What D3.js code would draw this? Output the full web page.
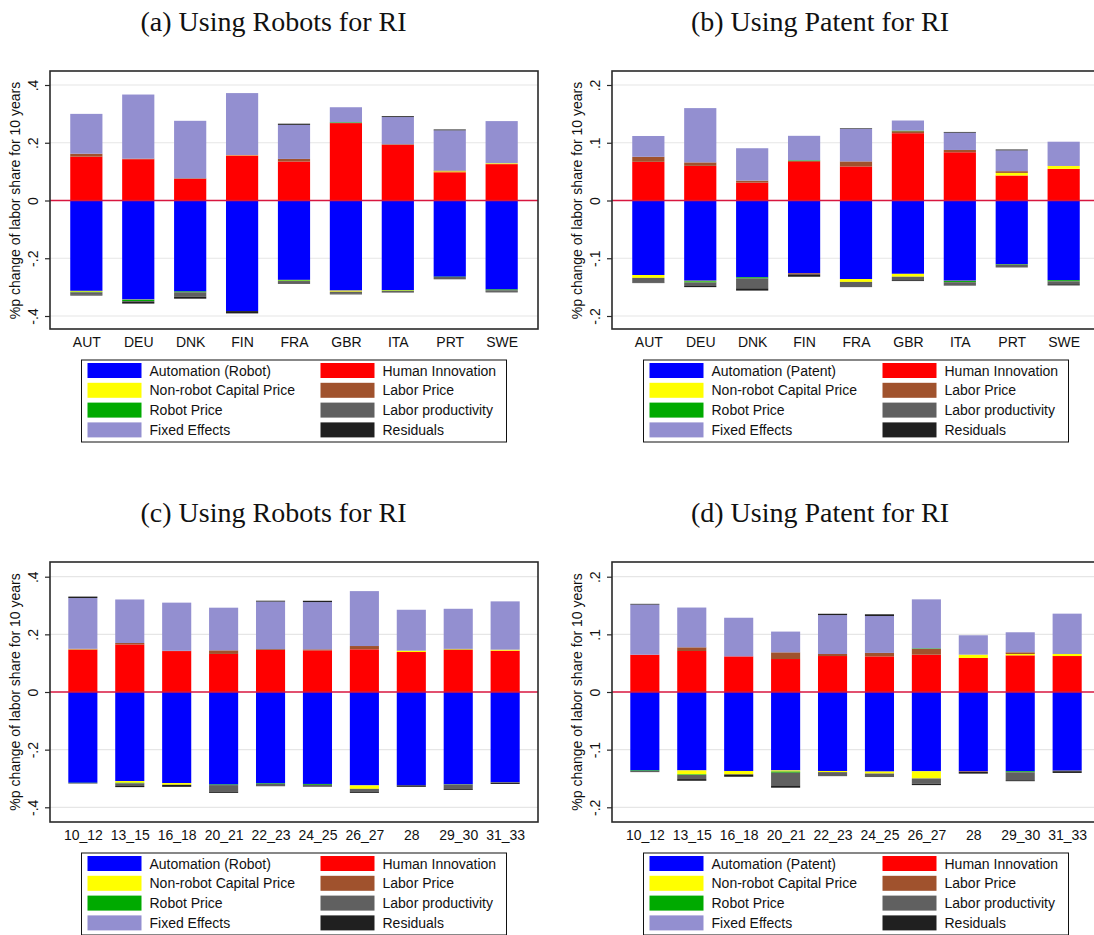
<!DOCTYPE html>
<html><head><meta charset="utf-8">
<script src="https://cdn.jsdelivr.net/npm/d3@7"></script>
<style>body{margin:0;background:#fff} svg{display:block}</style>
</head><body>
<svg id="chart" width="1094" height="935"></svg>
<script>
// ---------- DATA ----------
const countries = ["AUT","DEU","DNK","FIN","FRA","GBR","ITA","PRT","SWE"];
const industries = ["10_12","13_15","16_18","20_21","22_23","24_25","26_27","28","29_30","31_33"];

const namesRobot  = ["Automation (Robot)","Human Innovation","Non-robot Capital Price","Labor Price","Robot Price","Labor productivity","Fixed Effects","Residuals"];
const namesPatent = ["Automation (Patent)","Human Innovation","Non-robot Capital Price","Labor Price","Robot Price","Labor productivity","Fixed Effects","Residuals"];

const ticksRobot = [-0.4,-0.2,0,0.2,0.4];
const tickLabelsRobot = ["-.4","-.2","0",".2",".4"];
const ticksPatent = [-0.2,-0.1,0,0.1,0.2];
const tickLabelsPatent = ["-.2","-.1","0",".1",".2"];

// (a) Robots, by country
const aAutomation = [-0.313,-0.343,-0.315,-0.383,-0.275,-0.312,-0.310,-0.264,-0.308];
const aHuman      = [0.152,0.143,0.075,0.156,0.135,0.268,0.193,0.098,0.126];
const aCapital    = [-0.003,-0.001,0,0.001,-0.002,-0.004,-0.002,0.003,0.003];
const aLaborPrice = [0.010,0.002,0.002,0,0.009,0.001,0.002,0.003,0];
const aRobotPrice = [-0.002,-0.004,-0.003,0,-0.002,0.002,-0.001,-0.001,-0.003];
const aLaborProd  = [-0.008,-0.003,-0.015,0,-0.010,-0.007,-0.006,-0.008,-0.004];
const aFixed      = [0.138,0.222,0.199,0.215,0.118,0.052,0.094,0.139,0.146];
const aResidual   = [-0.003,-0.006,-0.007,-0.008,0.004,-0.002,0.003,0.003,-0.003];

// (b) Patent, by country
const bAutomation = [-0.129,-0.139,-0.133,-0.126,-0.136,-0.127,-0.139,-0.110,-0.138];
const bHuman      = [0.067,0.060,0.031,0.068,0.059,0.1165,0.0835,0.0433,0.0548];
const bCapital    = [-0.005,-0.001,0,0,-0.005,-0.005,-0.0005,0.0045,0.005];
const bLaborPrice = [0.0087,0.006,0.0035,-0.002,0.0087,0.0035,0.004,0.003,0];
const bRobotPrice = [0,-0.002,-0.002,0.0015,0,0.001,-0.002,-0.001,-0.002];
const bLaborProd  = [-0.008,-0.006,-0.017,0,-0.009,-0.006,-0.006,-0.005,-0.005];
const bFixed      = [0.036,0.094,0.056,0.0425,0.0565,0.0175,0.030,0.036,0.042];
const bResidual   = [-0.001,-0.002,-0.004,-0.004,0.001,-0.0015,0.0012,0.0015,-0.002];

// (c) Robots, by industry
const cAutomation = [-0.315,-0.309,-0.316,-0.321,-0.317,-0.319,-0.324,-0.324,-0.320,-0.313];
const cHuman      = [0.147,0.165,0.142,0.132,0.1457,0.1445,0.148,0.1387,0.1457,0.1433];
const cCapital    = [0.001,-0.006,-0.006,0,0,0,-0.012,0.0046,0.002,0.0035];
const cLaborPrice = [0.002,0.005,0.001,0.0125,0.003,0.0035,0.0115,0,0.002,0];
const cRobotPrice = [-0.001,-0.002,0,-0.002,-0.002,-0.003,0,0,-0.001,0];
const cLaborProd  = [-0.002,-0.009,0,-0.022,-0.008,-0.007,-0.009,0,-0.016,-0.002];
const cFixed      = [0.176,0.151,0.167,0.148,0.165,0.164,0.1905,0.142,0.139,0.1676];
const cResidual   = [0.005,-0.004,-0.007,-0.005,0.003,0.0045,-0.005,-0.005,-0.003,-0.004];

// (d) Patent, by industry
const dAutomation = [-0.136,-0.136,-0.137,-0.136,-0.137,-0.138,-0.1375,-0.1376,-0.1376,-0.1364];
const dHuman      = [0.0647,0.0711,0.0618,0.0572,0.0624,0.0618,0.0647,0.059,0.0636,0.0624];
const dCapital    = [0,-0.007,-0.006,-0.002,-0.002,-0.0035,-0.0125,0.0058,0.0023,0.0035];
const dLaborPrice = [0,0.0064,0,0.0116,0.0035,0.006,0.010,-0.001,0.003,0];
const dRobotPrice = [-0.001,-0.001,0,-0.002,0,0,0.001,0,-0.0017,0];
const dLaborProd  = [-0.002,-0.007,0,-0.022,-0.007,-0.006,-0.009,0,-0.0137,-0.001];
const dFixed      = [0.087,0.069,0.067,0.036,0.0675,0.064,0.085,0.0336,0.0347,0.070];
const dResidual   = [0.0012,-0.003,-0.004,-0.004,0.0023,0.003,-0.0025,-0.003,-0.0017,-0.003];

const panelTitles = ["(a) Using Robots for RI","(b) Using Patent for RI","(c) Using Robots for RI","(d) Using Patent for RI"];
const yAxisTitle = "%p change of labor share for 10 years";

// ---------- STYLE ----------
const colors = ["#0000ff","#ff0000","#ffff00","#a0522d","#00aa00","#606060","#938fd0","#202020"];
const SANS = "'Liberation Sans', Arial, Helvetica, sans-serif";
const SERIF = "'Liberation Serif', 'Times New Roman', serif";

const svg = d3.select("#chart");

const panels = [
  {title: panelTitles[0], cats: countries, names: namesRobot, ticks: ticksRobot, labels: tickLabelsRobot, max: 0.4,
   series: [aAutomation,aHuman,aCapital,aLaborPrice,aRobotPrice,aLaborProd,aFixed,aResidual],
   x0: 50, x1: 538, yTop: 85, yBot: 316, fTop: 71, fBot: 329, cx: 273.5, titleY: 31},
  {title: panelTitles[1], cats: countries, names: namesPatent, ticks: ticksPatent, labels: tickLabelsPatent, max: 0.2,
   series: [bAutomation,bHuman,bCapital,bLaborPrice,bRobotPrice,bLaborProd,bFixed,bResidual],
   x0: 612, x1: 1100, yTop: 85, yBot: 316, fTop: 71, fBot: 329, cx: 820, titleY: 31},
  {title: panelTitles[2], cats: industries, names: namesRobot, ticks: ticksRobot, labels: tickLabelsRobot, max: 0.4,
   series: [cAutomation,cHuman,cCapital,cLaborPrice,cRobotPrice,cLaborProd,cFixed,cResidual],
   x0: 50, x1: 538, yTop: 576.7, yBot: 807.3, fTop: 562, fBot: 822, cx: 273.5, titleY: 522},
  {title: panelTitles[3], cats: industries, names: namesPatent, ticks: ticksPatent, labels: tickLabelsPatent, max: 0.2,
   series: [dAutomation,dHuman,dCapital,dLaborPrice,dRobotPrice,dLaborProd,dFixed,dResidual],
   x0: 612, x1: 1100, yTop: 576.7, yBot: 807.3, fTop: 562, fBot: 822, cx: 820, titleY: 522}
];

panels.forEach(drawPanel);

function drawPanel(p) {
  const g = svg.append("g");
  const x = d3.scalePoint().domain(p.cats).range([p.x0, p.x1]).padding(0.7);
  const bw = x.step() * 0.62;
  const y = d3.scaleLinear().domain([-p.max, p.max]).range([p.yBot, p.yTop]);

  // title
  g.append("text").attr("x", p.cx).attr("y", p.titleY).attr("text-anchor", "middle")
    .style("font-family", SERIF).style("font-size", "28px").attr("fill", "#111").text(p.title);

  // gridlines
  g.append("g").selectAll("line").data(p.ticks.filter(t => t !== 0)).join("line")
    .attr("x1", p.x0).attr("x2", p.x1).attr("y1", d => y(d)).attr("y2", d => y(d))
    .attr("stroke", "#e6e6e6").attr("stroke-width", 1.2);

  // stacked bars
  const pos = p.cats.map(() => 0), neg = p.cats.map(() => 0);
  p.series.forEach((vals, s) => {
    const segs = [];
    vals.forEach((v, i) => {
      if (!v) return;
      let a, b;
      if (v > 0) { a = pos[i]; b = pos[i] + v; pos[i] = b; }
      else { a = neg[i]; b = neg[i] + v; neg[i] = b; }
      segs.push({cat: p.cats[i], lo: Math.min(a, b), hi: Math.max(a, b)});
    });
    g.append("g").selectAll("rect").data(segs).join("rect")
      .attr("x", d => x(d.cat) - bw / 2).attr("width", bw)
      .attr("y", d => y(d.hi)).attr("height", d => y(d.lo) - y(d.hi))
      .attr("fill", colors[s]);
  });

  // zero line
  g.append("line").attr("x1", p.x0).attr("x2", p.x1).attr("y1", y(0)).attr("y2", y(0))
    .attr("stroke", "#d8163f").attr("stroke-width", 1.3);

  // frame
  g.append("rect").attr("x", p.x0).attr("y", p.fTop).attr("width", p.x1 - p.x0).attr("height", p.fBot - p.fTop)
    .attr("fill", "none").attr("stroke", "#2a2a2a").attr("stroke-width", 1.6);

  // y axis
  const ya = g.append("g").attr("transform", `translate(${p.x0},0)`)
    .call(d3.axisLeft(y).tickValues(p.ticks).tickFormat((d, i) => p.labels[i]).tickSize(5));
  ya.select(".domain").remove();
  ya.selectAll(".tick line").attr("stroke", "#2a2a2a").attr("stroke-width", 1.2);
  ya.selectAll(".tick text").attr("x", null).attr("dy", null).attr("text-anchor", "middle")
    .attr("transform", "translate(-12,0) rotate(-90)")
    .style("font-family", SANS).style("font-size", "14px").attr("fill", "#111");

  // y title
  g.append("text").attr("transform", `translate(${p.x0 - 30},${(p.yTop + p.yBot) / 2}) rotate(-90)`)
    .attr("text-anchor", "middle").style("font-family", SANS).style("font-size", "14px").attr("fill", "#111")
    .text(yAxisTitle);

  // x axis
  const xa = g.append("g").attr("transform", `translate(0,${p.fBot})`)
    .call(d3.axisBottom(x).tickSize(0));
  xa.select(".domain").remove();
  xa.selectAll(".tick text").attr("y", 18).attr("dy", null)
    .style("font-family", SANS).style("font-size", "14px").attr("fill", "#111");

  // legend
  const lx = (p.x0 + p.x1) / 2 - 212.5, ly = p.fBot + 31;
  const lg = g.append("g").attr("transform", `translate(${lx},${ly})`);
  lg.append("rect").attr("width", 425).attr("height", 82).attr("fill", "#fff")
    .attr("stroke", "#111").attr("stroke-width", 1);
  const items = lg.selectAll("g.item").data(p.names).join("g").attr("class", "item")
    .attr("transform", (d, i) => `translate(${i % 2 === 0 ? 6 : 239},${3 + Math.floor(i / 2) * 19.8})`);
  items.append("rect").attr("width", 54).attr("height", 15).attr("fill", (d, i) => colors[i]);
  items.append("text").attr("x", 62).attr("y", 12.5)
    .style("font-family", SANS).style("font-size", "14px").attr("fill", "#111").text(d => d);
}
</script></body></html>
